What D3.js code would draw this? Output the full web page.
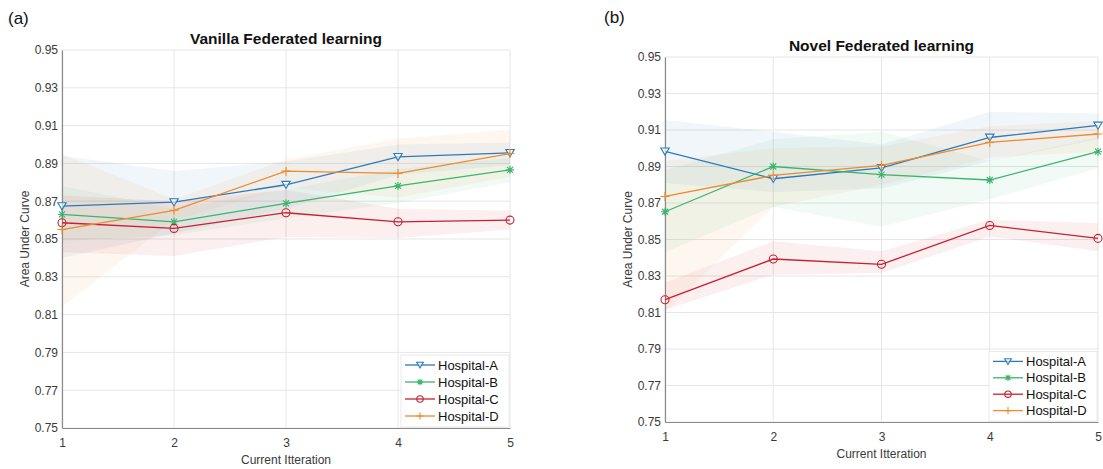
<!DOCTYPE html>
<html><head><meta charset="utf-8">
<script src="https://cdn.jsdelivr.net/npm/d3@7"></script>
<style>
html,body{margin:0;padding:0;background:#fff;}
svg{display:block;font-family:"Liberation Sans",Arial,Helvetica,sans-serif;}
</style></head>
<body><svg id="chart" width="1103" height="469"></svg>
<script>
// ---------- data ----------
const iterations = [1, 2, 3, 4, 5];
const yTicks = [0.75, 0.77, 0.79, 0.81, 0.83, 0.85, 0.87, 0.89, 0.91, 0.93, 0.95];
const hospitals = ["Hospital-A", "Hospital-B", "Hospital-C", "Hospital-D"];

// (a) Vanilla Federated learning
const vanillaA      = [0.8674, 0.8695, 0.8787, 0.8935, 0.8956];
const vanillaA_lo   = [0.840, 0.853, 0.866, 0.884, 0.889];
const vanillaA_hi   = [0.894, 0.886, 0.891, 0.900, 0.901];
const vanillaB      = [0.8630, 0.8591, 0.8688, 0.8781, 0.8866];
const vanillaB_lo   = [0.849, 0.852, 0.861, 0.869, 0.880];
const vanillaB_hi   = [0.878, 0.866, 0.876, 0.887, 0.893];
const vanillaC      = [0.8586, 0.8556, 0.8639, 0.8591, 0.8600];
const vanillaC_lo   = [0.843, 0.841, 0.851, 0.8505, 0.855];
const vanillaC_hi   = [0.873, 0.870, 0.876, 0.866, 0.865];
const vanillaD      = [0.8550, 0.8652, 0.8859, 0.8847, 0.8952];
const vanillaD_lo   = [0.814, 0.860, 0.877, 0.872, 0.883];
const vanillaD_hi   = [0.895, 0.871, 0.892, 0.903, 0.908];

// (b) Novel Federated learning
const novelA      = [0.8983, 0.8833, 0.8892, 0.9059, 0.9125];
const novelA_lo   = [0.881, 0.876, 0.878, 0.893, 0.905];
const novelA_hi   = [0.9155, 0.909, 0.902, 0.920, 0.919];
const novelB      = [0.8652, 0.8900, 0.8855, 0.8826, 0.8981];
const novelB_lo   = [0.843, 0.868, 0.857, 0.872, 0.889];
const novelB_hi   = [0.888, 0.905, 0.909, 0.893, 0.906];
const novelC      = [0.8170, 0.8393, 0.8364, 0.8577, 0.8506];
const novelC_lo   = [0.8115, 0.8307, 0.8316, 0.8517, 0.8435];
const novelC_hi   = [0.8263, 0.8490, 0.8435, 0.8608, 0.8590];
const novelD      = [0.8736, 0.8851, 0.8906, 0.9032, 0.9078];
const novelD_lo   = [0.810, 0.868, 0.880, 0.895, 0.898];
const novelD_hi   = [0.893, 0.900, 0.901, 0.912, 0.915];

// ---------- styles ----------
const colors = ["#2b7bba", "#3cb46e", "#c9202f", "#ef8b2c"];
const markers = ["triangleDown", "asterisk", "circle", "plus"];

const svg = d3.select("#chart");

function drawMarker(g, type, x, y, color, sc) {
  sc = sc || 1;
  if (type === "triangleDown") {
    const s = 4.2 * sc;
    g.append("path").attr("d", `M${x - s},${y - s * 0.8}L${x + s},${y - s * 0.8}L${x},${y + s * 0.9}Z`)
      .attr("fill", "#fff").attr("fill-opacity", 0.6).attr("stroke", color).attr("stroke-width", 1.1);
  } else if (type === "circle") {
    g.append("circle").attr("cx", x).attr("cy", y).attr("r", 4 * sc)
      .attr("fill", "none").attr("stroke", color).attr("stroke-width", 1.1);
  } else if (type === "plus") {
    const s = 4.5 * sc;
    g.append("path").attr("d", `M${x - s},${y}L${x + s},${y}M${x},${y - s}L${x},${y + s}`)
      .attr("stroke", color).attr("stroke-width", 1.1);
  } else if (type === "asterisk") {
    const s = 4 * sc, d = s * 0.75;
    g.append("path").attr("d", `M${x - s},${y}L${x + s},${y}M${x},${y - s}L${x},${y + s}M${x - d},${y - d}L${x + d},${y + d}M${x - d},${y + d}L${x + d},${y - d}`)
      .attr("stroke", color).attr("stroke-width", 1.1);
  }
}

function panel(cfg) {
  const g = svg.append("g");
  const x = d3.scaleLinear().domain([1, 5]).range([cfg.left, cfg.right]);
  const y = d3.scaleLinear().domain([0.75, 0.95]).range([cfg.bottom, cfg.top]);

  // grid
  g.append("g").selectAll("line").data(yTicks).join("line")
    .attr("x1", cfg.left).attr("x2", cfg.right)
    .attr("y1", d => y(d)).attr("y2", d => y(d))
    .attr("stroke", "#e6e6e6").attr("stroke-width", 1);
  g.append("g").selectAll("line").data(iterations).join("line")
    .attr("x1", d => x(d)).attr("x2", d => x(d))
    .attr("y1", cfg.top).attr("y2", cfg.bottom)
    .attr("stroke", "#e6e6e6").attr("stroke-width", 1);

  // bands
  const area = d3.area().x((d, i) => x(iterations[i])).y0(d => y(d[0])).y1(d => y(d[1]));
  cfg.series.forEach((s, k) => {
    const pts = s.lo.map((v, i) => [v, s.hi[i]]);
    g.append("path").attr("d", area(pts)).attr("fill", colors[k]).attr("fill-opacity", 0.07);
  });

  // axes
  const yAxis = d3.axisLeft(y).tickValues(yTicks).tickFormat(d3.format(".2f")).tickSize(0).tickPadding(4);
  const ya = g.append("g").attr("transform", `translate(${cfg.left},0)`).call(yAxis);
  const xAxis = d3.axisBottom(x).tickValues(iterations).tickFormat(d3.format("d")).tickSize(0).tickPadding(10);
  const xa = g.append("g").attr("transform", `translate(0,${cfg.bottom})`).call(xAxis);
  [ya, xa].forEach(a => {
    a.select(".domain").attr("stroke", "#8a8a8a").attr("stroke-width", 1.2);
    a.selectAll("text").attr("fill", "#3a3a3a").style("font-size", "12px");
  });

  // lines + markers
  const line = d3.line().x((d, i) => x(iterations[i])).y(d => y(d));
  cfg.series.forEach((s, k) => {
    g.append("path").attr("d", line(s.mean)).attr("fill", "none")
      .attr("stroke", colors[k]).attr("stroke-width", 1.3);
    s.mean.forEach((v, i) => drawMarker(g, markers[k], x(iterations[i]), y(v), colors[k]));
  });

  // title, labels
  g.append("text").attr("x", (cfg.left + cfg.right) / 2).attr("y", cfg.top - 6)
    .attr("text-anchor", "middle").style("font-size", "15.5px").style("font-weight", "bold")
    .attr("fill", "#111").text(cfg.title);
  g.append("text").attr("x", (cfg.left + cfg.right) / 2).attr("y", cfg.bottom + 36)
    .attr("text-anchor", "middle").style("font-size", "12px").attr("fill", "#3a3a3a").text("Current Itteration");
  g.append("text").attr("transform", `translate(${cfg.left - 33},${(cfg.top + cfg.bottom) / 2}) rotate(-90)`)
    .attr("text-anchor", "middle").style("font-size", "12px").attr("fill", "#3a3a3a").text("Area Under Curve");
  g.append("text").attr("x", cfg.tagX).attr("y", cfg.tagY).style("font-size", "17px")
    .attr("fill", "#111").text(cfg.tag);

  // legend
  const lg = g.append("g");
  const lw = 108, lh = cfg.legRow * 4 + 4;
  const lx = cfg.right - lw - 1, ly = cfg.bottom - lh - 1;
  lg.append("rect").attr("x", lx).attr("y", ly).attr("width", lw).attr("height", lh)
    .attr("fill", "#fff").attr("stroke", "#e3e3e3").attr("stroke-width", 0.8);
  hospitals.forEach((h, k) => {
    const cy = ly + 10 + k * cfg.legRow;
    lg.append("line").attr("x1", lx + 4).attr("x2", lx + 34).attr("y1", cy).attr("y2", cy)
      .attr("stroke", colors[k]).attr("stroke-width", 1.3);
    drawMarker(lg, markers[k], lx + 19, cy, colors[k], 0.8);
    lg.append("text").attr("x", lx + 37).attr("y", cy + 4.5).style("font-size", "13px")
      .attr("fill", "#111").text(h);
  });
}

panel({
  left: 62, right: 510, top: 50, bottom: 428, legRow: 17,
  title: "Vanilla Federated learning", tag: "(a)", tagX: 8, tagY: 24,
  series: [
    {mean: vanillaA, lo: vanillaA_lo, hi: vanillaA_hi},
    {mean: vanillaB, lo: vanillaB_lo, hi: vanillaB_hi},
    {mean: vanillaC, lo: vanillaC_lo, hi: vanillaC_hi},
    {mean: vanillaD, lo: vanillaD_lo, hi: vanillaD_hi}
  ]
});
panel({
  left: 665, right: 1098, top: 57, bottom: 422, legRow: 16.4,
  title: "Novel Federated learning", tag: "(b)", tagX: 604, tagY: 23,
  series: [
    {mean: novelA, lo: novelA_lo, hi: novelA_hi},
    {mean: novelB, lo: novelB_lo, hi: novelB_hi},
    {mean: novelC, lo: novelC_lo, hi: novelC_hi},
    {mean: novelD, lo: novelD_lo, hi: novelD_hi}
  ]
});
</script></body></html>
